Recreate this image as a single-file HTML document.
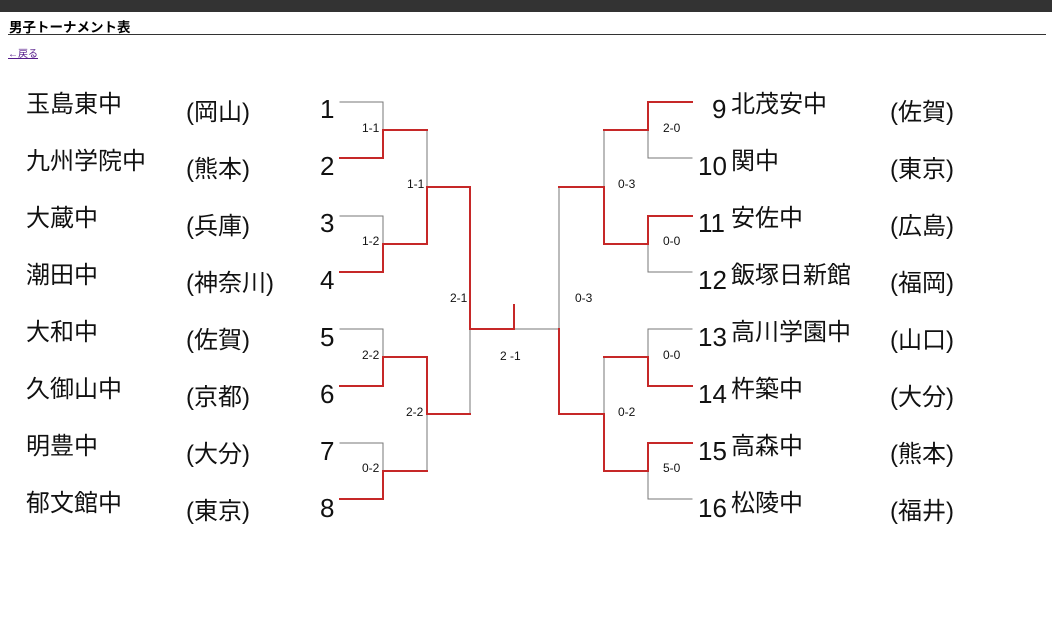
<!DOCTYPE html>
<html><head><meta charset="utf-8"><style>
html,body{margin:0;padding:0;background:#fff;width:1052px;height:622px;overflow:hidden}
</style></head><body>
<svg width="1052" height="622" xmlns="http://www.w3.org/2000/svg" style="position:absolute;left:0;top:0">
<rect x="0" y="0" width="1052" height="12" fill="#333"/>
<text x="9" y="32" font-family="Liberation Sans, Noto Sans CJK JP, sans-serif" font-size="13.5" font-weight="bold" fill="#000">男子トーナメント表</text>
<line x1="8" y1="34.5" x2="1046" y2="34.5" stroke="#333" stroke-width="1"/>
<text x="8" y="57" font-family="Liberation Sans, Noto Sans CJK JP, sans-serif" font-size="10" fill="#551a8b" text-decoration="underline">←戻る</text>

<g font-family="Liberation Sans, Noto Sans CJK JP, sans-serif" fill="#111">
<g font-size="24">
<text x="26" y="112">玉島東中</text>
<text x="26" y="169">九州学院中</text>
<text x="26" y="226">大蔵中</text>
<text x="26" y="283">潮田中</text>
<text x="26" y="340">大和中</text>
<text x="26" y="397">久御山中</text>
<text x="26" y="454">明豊中</text>
<text x="26" y="511">郁文館中</text>
<text x="186" y="120">(岡山)</text>
<text x="186" y="177">(熊本)</text>
<text x="186" y="234">(兵庫)</text>
<text x="186" y="291">(神奈川)</text>
<text x="186" y="348">(佐賀)</text>
<text x="186" y="405">(京都)</text>
<text x="186" y="462">(大分)</text>
<text x="186" y="519">(東京)</text>
<text x="731" y="112">北茂安中</text>
<text x="731" y="169">関中</text>
<text x="731" y="226">安佐中</text>
<text x="731" y="283">飯塚日新館</text>
<text x="731" y="340">高川学園中</text>
<text x="731" y="397">杵築中</text>
<text x="731" y="454">高森中</text>
<text x="731" y="511">松陵中</text>
<text x="890" y="120">(佐賀)</text>
<text x="890" y="177">(東京)</text>
<text x="890" y="234">(広島)</text>
<text x="890" y="291">(福岡)</text>
<text x="890" y="348">(山口)</text>
<text x="890" y="405">(大分)</text>
<text x="890" y="462">(熊本)</text>
<text x="890" y="519">(福井)</text>
</g>
<g font-size="26">
<text x="320" y="118">1</text>
<text x="320" y="175">2</text>
<text x="320" y="232">3</text>
<text x="320" y="289">4</text>
<text x="320" y="346">5</text>
<text x="320" y="403">6</text>
<text x="320" y="460">7</text>
<text x="320" y="517">8</text>
<text x="712" y="118">9</text>
<text x="698" y="175">10</text>
<text x="698" y="232">11</text>
<text x="698" y="289">12</text>
<text x="698" y="346">13</text>
<text x="698" y="403">14</text>
<text x="698" y="460">15</text>
<text x="698" y="517">16</text>
</g>
<g font-size="12">
<text x="362" y="132">1-1</text>
<text x="407" y="188">1-1</text>
<text x="362" y="245">1-2</text>
<text x="450" y="302">2-1</text>
<text x="362" y="359">2-2</text>
<text x="406" y="416">2-2</text>
<text x="362" y="472">0-2</text>
<text x="500" y="360">2 -1</text>
<text x="663" y="132">2-0</text>
<text x="618" y="188">0-3</text>
<text x="663" y="245">0-0</text>
<text x="575" y="302">0-3</text>
<text x="663" y="359">0-0</text>
<text x="618" y="416">0-2</text>
<text x="663" y="472">5-0</text>
</g>
</g>

<g fill="none" stroke-linecap="square">
<g stroke="#777" stroke-width="1">
<path d="M340 102H383V130"/>
<path d="M340 216H383V244"/>
<path d="M340 329H383V357"/>
<path d="M340 443H383V471"/>
<path d="M427 130V187"/>
<path d="M427 414V471"/>
<path d="M470 329V414"/>
<path d="M514 329H559V187"/>
<path d="M604 130V187"/>
<path d="M604 357V414"/>
<path d="M692 158H648V130"/>
<path d="M692 272H648V244"/>
<path d="M692 329H648V357"/>
<path d="M692 499H648V471"/>
</g>
<g stroke="#c62828" stroke-width="2">
<path d="M340 158H383V130H427"/>
<path d="M340 272H383V244H427V187H470V329H514V305"/>
<path d="M340 386H383V357H427V414H470"/>
<path d="M340 499H383V471H427"/>
<path d="M692 102H648V130H604"/>
<path d="M692 216H648V244H604V187H559"/>
<path d="M559 329V414H604V471H648V443H692"/>
<path d="M692 386H648V357H604"/>
</g>
</g>
</svg>
</body></html>
